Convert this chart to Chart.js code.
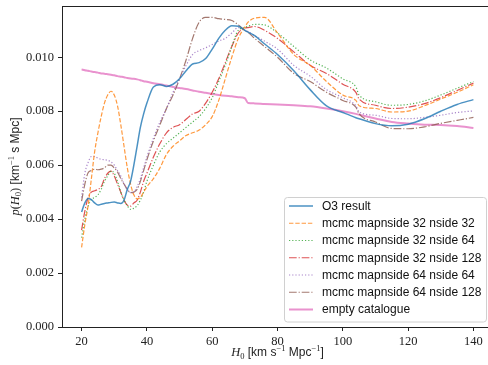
<!DOCTYPE html>
<html>
<head>
<meta charset="utf-8">
<script src="https://cdn.jsdelivr.net/npm/chart.js@4/dist/chart.umd.min.js"></script>
<style>
  html, body { margin: 0; padding: 0; background: #fff; overflow: hidden; }
  #wrap { position: absolute; left: 0; top: 0; width: 500px; height: 365px; }
</style>
</head>
<body>
<div id="wrap"><canvas id="c" width="500" height="365"></canvas></div>
<script>
// ---------------- data ----------------
const H0 = [20,21,22,23,24,25,26,27,28,29,30,31,32,33,34,35,36,37,38,39,40,42,44,46,48,50,52,54,56,58,60,62,64,66,68,70,71,73,76,80,85,90,95,100,104,105,110,115,120,125,130,135,140];

const o3Result = [0.00426,0.0046,0.00476,0.00472,0.0046,0.00452,0.00455,0.00458,0.0046,0.00462,0.00463,0.0046,0.00458,0.0047,0.0051,0.0054,0.0060,0.0067,0.0074,0.0079,0.0083,0.0089,0.00898,0.00892,0.0090,0.0092,0.0095,0.00975,0.0098,0.00995,0.0103,0.0107,0.0110,0.01117,0.01115,0.0110,0.01093,0.0108,0.0105,0.0101,0.0095,0.0088,0.0082,0.00795,0.00776,0.00772,0.00754,0.00746,0.00752,0.00772,0.0080,0.00825,0.00843];

const m32n32 = [0.00295,0.0038,0.0045,0.0055,0.0065,0.0072,0.0078,0.0083,0.0086,0.00874,0.0086,0.0082,0.0075,0.0067,0.0059,0.0053,0.0049,0.00475,0.0048,0.0050,0.0052,0.0055,0.0059,0.0064,0.0067,0.0069,0.0071,0.0072,0.0073,0.0075,0.0078,0.0084,0.0092,0.0100,0.0107,0.01112,0.0113,0.01145,0.01148,0.0109,0.0101,0.0097,0.0091,0.0086,0.0084,0.0082,0.0081,0.00797,0.0080,0.0082,0.00845,0.0087,0.00898];

const m32n64 = [0.00331,0.0040,0.00448,0.00473,0.0048,0.0049,0.0051,0.0054,0.0056,0.00578,0.0057,0.0054,0.0050,0.0047,0.0045,0.00436,0.0044,0.0045,0.0047,0.0050,0.0054,0.0060,0.0065,0.0068,0.0070,0.0072,0.0074,0.0076,0.0078,0.0081,0.0085,0.0091,0.0097,0.0104,0.0110,0.0111,0.01115,0.01122,0.0112,0.0109,0.0104,0.0099,0.0096,0.0092,0.0089,0.0086,0.00835,0.00822,0.00825,0.00838,0.0086,0.00885,0.0091];

const m32n128 = [0.00359,0.0043,0.0048,0.0050,0.00505,0.0051,0.0052,0.0055,0.0057,0.00578,0.0056,0.0053,0.0050,0.0047,0.00452,0.00448,0.0046,0.0047,0.0050,0.0054,0.0057,0.0063,0.0068,0.0072,0.0074,0.0075,0.0077,0.0079,0.0080,0.0083,0.0087,0.0092,0.0098,0.0104,0.0109,0.01108,0.0111,0.01114,0.0110,0.0107,0.0102,0.0097,0.0094,0.0090,0.0087,0.00845,0.00822,0.0081,0.00815,0.00828,0.0085,0.00877,0.00904];

const m64n64 = [0.0048,0.0057,0.0061,0.00632,0.00632,0.00626,0.00622,0.0062,0.00618,0.00612,0.0060,0.0058,0.0056,0.0053,0.0051,0.00498,0.0050,0.0052,0.0055,0.0059,0.0063,0.0070,0.0076,0.0081,0.0087,0.0092,0.0097,0.0101,0.01025,0.01035,0.01047,0.0106,0.0107,0.0109,0.0111,0.0110,0.01095,0.0108,0.0106,0.0103,0.0097,0.0093,0.0088,0.0085,0.0082,0.00797,0.00785,0.00773,0.00772,0.00777,0.00785,0.00795,0.00801];

const m64n128 = [0.00467,0.0053,0.00572,0.0058,0.00585,0.00583,0.00585,0.0059,0.0060,0.0060,0.0059,0.00575,0.0055,0.0053,0.0051,0.00498,0.0050,0.0051,0.0054,0.0058,0.0062,0.0069,0.0075,0.0081,0.0086,0.0092,0.0099,0.0107,0.0113,0.01148,0.01148,0.01143,0.0114,0.01136,0.0112,0.0110,0.01092,0.0107,0.0104,0.0100,0.0094,0.0091,0.0087,0.0084,0.00815,0.0079,0.0076,0.00736,0.00735,0.00742,0.00755,0.00766,0.00777];

const emptyCatalogue = [0.00955,0.00952,0.0095,0.00947,0.00945,0.00943,0.0094,0.00939,0.00937,0.00935,0.00933,0.0093,0.00928,0.00926,0.00923,0.00921,0.0092,0.00918,0.00915,0.00911,0.00909,0.00904,0.0090,0.00895,0.0089,0.00886,0.00882,0.00877,0.00872,0.00868,0.00864,0.0086,0.00857,0.00855,0.00852,0.00848,0.0083,0.00829,0.00827,0.00825,0.00822,0.00818,0.0081,0.0080,0.0079,0.00787,0.00773,0.0076,0.00754,0.0075,0.00749,0.00745,0.00738];

const seriesLabels = ['O3 result','mcmc mapnside 32 nside 32','mcmc mapnside 32 nside 64','mcmc mapnside 32 nside 128','mcmc mapnside 64 nside 64','mcmc mapnside 64 nside 128','empty catalogue'];
const xTickValues = [20,40,60,80,100,120,140];
const yTickValues = [0,0.002,0.004,0.006,0.008,0.010];
const yTickLabels = ['0.000','0.002','0.004','0.006','0.008','0.010'];

// ---------------- styles ----------------
const A = 0.8;
function rgba(r,g,b){ return `rgba(${r},${g},${b},${A})`; }
const styles = [
  {color: rgba(31,119,180),  width: 1.5, dash: []},
  {color: rgba(255,127,14),  width: 1.2, dash: [4.4,1.9]},
  {color: rgba(44,160,44),   width: 1.2, dash: [1.2,2.0]},
  {color: rgba(214,39,40),   width: 1.2, dash: [7.7,1.9,1.2,1.9]},
  {color: rgba(148,103,189), width: 1.2, dash: [1.2,2.0]},
  {color: rgba(140,86,75),   width: 1.2, dash: [7.7,1.9,1.2,1.9]},
  {color: rgba(227,119,194), width: 2.0, dash: []}
];
const seriesValues = [o3Result, m32n32, m32n64, m32n128, m64n64, m64n128, emptyCatalogue];

const datasets = seriesValues.map((vals, i) => ({
  label: seriesLabels[i],
  data: H0.map((h, j) => ({x: h, y: vals[j]})),
  borderColor: styles[i].color,
  borderWidth: styles[i].width,
  borderDash: styles[i].dash,
  pointRadius: 0,
  pointHoverRadius: 0,
  fill: false,
  cubicInterpolationMode: 'monotone',
  borderCapStyle: 'butt',
  borderJoinStyle: 'round'
}));

const AX = '#222';
const SERIF = '"Liberation Serif", "DejaVu Serif", serif';
const SANS = '"Liberation Sans", Arial, sans-serif';

// plot-area edges in the 488x365 frame (right edge falls just outside the window)
const AREA = { left: 62, top: 6, right: 493, bottom: 327 };

function drawRich(ctx, segs, x, y) {
  let total = 0;
  segs.forEach(s => { ctx.font = s.font; s.w = ctx.measureText(s.t).width; total += s.w; });
  let cx = x - total / 2;
  segs.forEach(s => {
    ctx.font = s.font;
    ctx.fillText(s.t, cx, y + (s.dy || 0));
    cx += s.w;
  });
}

const areaPlugin = {
  id: 'fixArea',
  afterLayout(chart) {
    const ca = chart.chartArea;
    ca.left = AREA.left; ca.top = AREA.top; ca.right = AREA.right; ca.bottom = AREA.bottom;
    ca.width = ca.right - ca.left; ca.height = ca.bottom - ca.top;
    const xs = chart.scales.x, ys = chart.scales.y;
    xs.left = AREA.left; xs.right = AREA.right; xs.width = AREA.right - AREA.left;
    xs.top = AREA.bottom; xs.bottom = AREA.bottom + 38; xs.height = 38;
    ys.top = AREA.top; ys.bottom = AREA.bottom; ys.height = AREA.bottom - AREA.top;
    ys.left = 0; ys.right = AREA.left; ys.width = AREA.left;
    xs.configure(); ys.configure();
  }
};

const decorPlugin = {
  id: 'decor',
  afterDraw(chart) {
    const ctx = chart.ctx;
    const ca = chart.chartArea;
    ctx.save();
    ctx.strokeStyle = AX; ctx.lineWidth = 1;
    ctx.beginPath(); ctx.moveTo(ca.left, ca.top + 0.5); ctx.lineTo(ca.right, ca.top + 0.5); ctx.stroke();
    ctx.beginPath(); ctx.moveTo(ca.right - 0.5, ca.top); ctx.lineTo(ca.right - 0.5, ca.bottom); ctx.stroke();

    // x axis label
    ctx.fillStyle = AX;
    ctx.textBaseline = 'alphabetic';
    const xc = (ca.left + ca.right) / 2;
    drawRich(ctx, [
      {t: 'H', font: 'italic 12.5px ' + SERIF},
      {t: '0', font: '8.5px ' + SERIF, dy: 2.5},
      {t: ' [km s', font: '12px ' + SANS},
      {t: '\u22121', font: '8.5px ' + SERIF, dy: -5},
      {t: ' Mpc', font: '12px ' + SANS},
      {t: '\u22121', font: '8.5px ' + SERIF, dy: -5},
      {t: ']', font: '12px ' + SANS}
    ], xc, 356);

    // y axis label
    ctx.save();
    ctx.translate(18.5, (ca.top + ca.bottom) / 2);
    ctx.rotate(-Math.PI / 2);
    drawRich(ctx, [
      {t: 'p', font: 'italic 12.5px ' + SERIF},
      {t: '(', font: '12.5px ' + SERIF},
      {t: 'H', font: 'italic 12.5px ' + SERIF},
      {t: '0', font: '8.5px ' + SERIF, dy: 2.5},
      {t: ')', font: '12.5px ' + SERIF},
      {t: ' [km', font: '12px ' + SANS},
      {t: '\u22121', font: '8.5px ' + SERIF, dy: -5},
      {t: ' s Mpc]', font: '12px ' + SANS}
    ], 0, 0);
    ctx.restore();

    // legend
    const lw = 202, lh = 124.5;
    const lx = ca.right - 7 - lw, ly = ca.bottom - 5.5 - lh;
    ctx.beginPath();
    if (ctx.roundRect) ctx.roundRect(lx + 0.5, ly + 0.5, lw, lh, 3); else ctx.rect(lx + 0.5, ly + 0.5, lw, lh);
    ctx.fillStyle = 'rgba(255,255,255,0.85)';
    ctx.fill();
    ctx.strokeStyle = '#d0d0d0'; ctx.lineWidth = 1;
    ctx.stroke();
    ctx.textBaseline = 'middle';
    ctx.font = '12px ' + SANS;
    chart.data.datasets.forEach((ds, i) => {
      const ry = ly + 9 + i * 17.25;
      ctx.save();
      ctx.strokeStyle = ds.borderColor;
      ctx.lineWidth = ds.borderWidth;
      ctx.setLineDash(ds.borderDash);
      ctx.beginPath(); ctx.moveTo(lx + 5, ry); ctx.lineTo(lx + 29, ry); ctx.stroke();
      ctx.restore();
      ctx.fillStyle = '#111';
      ctx.fillText(ds.label, lx + 38, ry + 0.5);
    });
    ctx.restore();
  }
};

new Chart(document.getElementById('c'), {
  type: 'line',
  data: { datasets },
  options: {
    responsive: false,
    animation: false,
    events: [],
    layout: { autoPadding: false, padding: { left: 0, right: 7, top: 6, bottom: 0 } },
    plugins: { legend: { display: false }, tooltip: { enabled: false }, title: { display: false } },
    scales: {
      x: {
        type: 'linear', min: 14, max: 146,
        afterFit(s) { s.height = 38; s.paddingLeft = 0; s.paddingRight = 0; },
        afterBuildTicks(s) { s.ticks = xTickValues.map(v => ({value: v})); },
        grid: { drawOnChartArea: false, drawTicks: true, tickLength: 4, tickColor: AX, tickWidth: 1 },
        border: { display: true, color: AX, width: 1 },
        ticks: { font: { family: SERIF, size: 12.5 }, color: AX, padding: 3, maxRotation: 0,
                 callback: v => String(v) }
      },
      y: {
        type: 'linear', min: 0, max: 0.0119,
        afterFit(s) { s.width = 62; s.paddingTop = 0; s.paddingBottom = 0; },
        afterBuildTicks(s) { s.ticks = yTickValues.map(v => ({value: v})); },
        grid: { drawOnChartArea: false, drawTicks: true, tickLength: 4, tickColor: AX, tickWidth: 1 },
        border: { display: true, color: AX, width: 1 },
        ticks: { font: { family: SERIF, size: 12.5 }, color: AX, padding: 4,
                 callback: (v) => { const k = yTickValues.findIndex(t => Math.abs(t - v) < 1e-9); return k >= 0 ? yTickLabels[k] : ''; } }
      }
    }
  },
  plugins: [areaPlugin, decorPlugin]
});
</script>
</body>
</html>
